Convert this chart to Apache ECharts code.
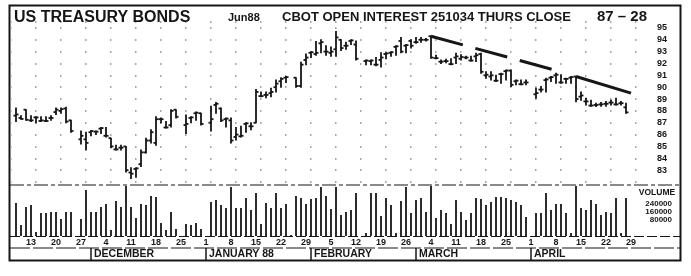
<!DOCTYPE html>
<html><head><meta charset="utf-8">
<script src="https://cdn.jsdelivr.net/npm/echarts@6/dist/echarts.min.js"></script>
<style>html,body{margin:0;padding:0;background:#fff}#c{width:691px;height:276px}</style>
</head><body><div id="c"></div>
<script>
// trading-day categories (weekdays, holidays kept as empty slots)
const categories = [
'11/9','11/10','11/11','11/12','11/13','11/16','11/17','11/18','11/19','11/20','11/23','11/24','11/25','11/26','11/27','11/30',
'12/1','12/2','12/3','12/4','12/7','12/8','12/9','12/10','12/11','12/14','12/15','12/16','12/17','12/18','12/21','12/22','12/23','12/24','12/25','12/28','12/29','12/30','12/31',
'1/1','1/4','1/5','1/6','1/7','1/8','1/11','1/12','1/13','1/14','1/15','1/18','1/19','1/20','1/21','1/22','1/25','1/26','1/27','1/28','1/29',
'2/1','2/2','2/3','2/4','2/5','2/8','2/9','2/10','2/11','2/12','2/15','2/16','2/17','2/18','2/19','2/22','2/23','2/24','2/25','2/26','2/29',
'3/1','3/2','3/3','3/4','3/7','3/8','3/9','3/10','3/11','3/14','3/15','3/16','3/17','3/18','3/21','3/22','3/23','3/24','3/25','3/28','3/29','3/30','3/31',
'4/1','4/4','4/5','4/6','4/7','4/8','4/11','4/12','4/13','4/14','4/15','4/18','4/19','4/20','4/21','4/22','4/25','4/26','4/27','4/28','4/29',
'5/2','5/3','5/4'];

const fridayLabels = ['11/13','11/20','11/27','12/4','12/11','12/18','12/25','1/1','1/8','1/15','1/22','1/29','2/5','2/12','2/19','2/26','3/4','3/11','3/18','3/25','4/1','4/8','4/15','4/22','4/29'];
const monthStarts = ['12/1','1/1','2/1','3/1','4/1'];
const monthNames = ['DECEMBER','JANUARY 88','FEBRUARY','MARCH','APRIL'];
const priceTicks = [83,84,85,86,87,88,89,90,91,92,93,94,95];
const volumeTicks = [80000,160000,240000];

const openP = [null,
87.6,87.4,88.1,87.2,87.45,87.15,87.15,87.4,87.9,88.0,88.2,87.2,null,85.6,85.6,
86.2,86.25,86.5,85.9,85.7,84.75,84.9,85.0,82.8,83.1,83.5,84.5,85.5,85.3,87.3,86.6,86.8,88.1,null,86.8,87.4,87.8,87.8,
null,87.0,88.5,88.2,87.3,87.2,85.8,85.85,86.9,86.7,87.0,89.25,89.35,89.5,90.0,90.5,90.8,null,90.8,90.1,92.3,
92.9,92.8,93.7,93.0,92.9,93.2,94.0,93.5,93.9,93.6,null,92.2,92.2,91.9,92.3,92.8,92.9,93.4,93.9,93.5,93.9,
93.8,94.0,94.0,94.3,92.45,92.15,92.2,91.95,92.5,92.4,92.5,92.25,92.6,92.8,91.0,90.9,90.55,91.1,91.35,91.4,90.5,90.25,90.4,
null,89.4,89.8,90.6,90.8,91.0,90.4,90.7,90.8,90.9,89.2,88.8,88.45,88.5,88.55,88.6,88.7,88.55,88.65,88.3];
const highP = [null,
88.25,87.6,88.1,87.6,87.5,87.5,87.5,87.6,88.25,88.25,88.3,87.2,null,86.3,86.2,
86.35,86.3,86.6,86.6,85.7,85.1,85.1,85.0,83.2,83.2,84.7,85.7,86.4,87.5,87.4,87.1,88.1,88.1,null,87.65,87.5,87.9,87.8,
null,88.4,88.7,88.25,87.4,87.4,86.6,86.7,87.0,87.0,89.8,89.6,89.6,89.9,90.6,90.8,90.9,null,90.8,92.1,92.8,
93.0,93.85,94.0,93.5,93.4,94.7,94.0,93.8,94.0,93.9,null,92.3,92.3,92.5,92.9,92.9,93.0,93.5,94.2,93.6,94.0,
94.2,94.2,94.1,94.3,92.7,92.3,92.36,92.4,92.87,92.73,92.6,92.6,92.87,92.87,91.3,91.3,91.0,91.18,91.46,91.46,90.6,90.6,90.6,
null,89.9,90.05,90.75,90.9,91.18,91.05,90.75,90.9,90.9,89.6,89.07,88.9,88.65,88.7,88.8,88.9,89.07,88.8,88.65];
const lowP = [null,
87.1,87.3,87.2,87.1,87.0,87.1,87.1,87.2,87.7,87.8,87.0,86.2,null,85.2,84.7,
85.9,86.0,86.1,85.8,84.9,84.7,84.7,82.85,82.3,82.4,83.3,84.45,85.3,85.1,87.0,86.55,86.65,87.4,null,86.1,87.0,87.2,86.8,
null,86.3,87.8,87.1,86.65,85.3,85.55,85.8,86.2,86.4,87.0,89.2,89.1,89.2,89.6,90.0,90.4,null,90.0,90.0,91.9,
92.5,92.7,92.9,92.7,92.6,92.6,93.1,93.2,93.6,92.3,null,91.9,91.9,91.8,91.7,92.4,92.6,92.7,92.9,92.9,93.3,
93.7,93.8,93.9,92.45,92.4,92.0,92.07,91.9,92.0,92.3,92.4,92.2,92.17,91.18,90.75,90.6,90.47,90.33,90.6,90.05,90.2,90.2,90.2,
null,89.07,89.6,89.6,90.47,90.33,90.33,90.33,90.33,88.78,88.9,88.5,88.4,88.36,88.4,88.4,88.5,88.5,88.5,87.8];
const closeP = [null,
87.7,87.32,87.25,87.2,87.45,87.2,87.15,87.4,88.1,88.15,87.1,86.3,null,85.9,85.3,
86.3,86.25,86.55,85.9,85.0,84.75,84.9,83.0,82.7,83.15,84.5,85.5,86.2,87.3,87.3,86.6,88.0,87.5,null,86.9,87.45,87.85,86.9,
null,87.3,88.6,87.2,87.35,85.5,86.0,85.9,86.95,86.7,89.6,89.25,89.35,89.6,90.3,90.7,90.85,null,90.1,91.9,92.5,
92.95,92.9,93.8,93.0,93.0,94.2,93.3,93.5,93.95,92.4,null,92.25,92.25,91.9,92.5,92.85,92.95,93.45,93.0,93.55,93.5,
93.8,94.0,94.0,92.5,92.45,92.15,92.2,91.95,92.6,92.55,92.5,92.25,92.7,91.3,91.05,91.0,90.55,91.1,91.4,90.2,90.55,90.25,90.4,
null,89.5,89.8,90.65,90.85,91.05,90.4,90.7,90.85,89.0,89.3,88.8,88.45,88.5,88.55,88.6,88.7,88.55,88.65,87.875];

const volume = [null,
264000,88000,232000,248000,32000,184000,184000,192000,192000,136000,192000,192000,null,136000,368000,
192000,192000,232000,256000,48000,280000,232000,408000,232000,144000,256000,248000,320000,312000,104000,48000,192000,56000,null,96000,88000,104000,56000,
null,272000,288000,248000,224000,392000,224000,224000,304000,208000,344000,96000,264000,224000,344000,224000,256000,8000,320000,304000,256000,
296000,304000,392000,320000,216000,392000,168000,192000,208000,344000,null,24000,344000,344000,160000,304000,248000,24000,280000,392000,
184000,288000,304000,192000,408000,144000,208000,184000,96000,288000,192000,128000,184000,304000,296000,248000,272000,312000,312000,304000,288000,272000,248000,152000,
null,184000,184000,344000,208000,256000,256000,184000,24000,408000,224000,208000,288000,256000,168000,192000,184000,304000,24000,304000];

const trendA = [['3/4', 94.3], ['4/11', 91.3]];
const trendB = [['4/14', 90.9], ['4/29', 89.5]];

const FONT = '"Liberation Sans",Arial,sans-serif';
const INK = '#161616';

const ohlc = [];
for (let i = 0; i < categories.length; i++) {
  if (highP[i] != null) ohlc.push([i, openP[i], highP[i], lowP[i], closeP[i]]);
}

const chart = echarts.init(document.getElementById('c'), null, {renderer: 'canvas'});
const fridaySet = new Set(fridayLabels);
const isMonthStart = (i, v) => monthStarts.indexOf(v) >= 0;

chart.setOption({
  animation: false,
  backgroundColor: '#fff',
  title: [
    {text: 'US TREASURY BONDS', left: 14, top: 10, padding: 0, textStyle: {fontSize: 16, fontWeight: 'bold', color: INK, fontFamily: FONT}},
    {text: 'Jun88', left: 228, top: 12, padding: 0, textStyle: {fontSize: 11, fontWeight: 'bold', color: INK, fontFamily: FONT}},
    {text: 'CBOT OPEN INTEREST 251034 THURS CLOSE', left: 282, top: 11, padding: 0, textStyle: {fontSize: 13, fontWeight: 'bold', color: INK, fontFamily: FONT}},
    {text: '87 \u2013 28', left: 597, top: 9, padding: 0, textStyle: {fontSize: 15, fontWeight: 'bold', color: INK, fontFamily: FONT}}
  ],
  grid: [
    {left: 8.5, right: 42.5, top: 22, height: 160},
    {left: 8.5, right: 42.5, top: 186, height: 50},
    {left: 8.5, right: 42.5, top: 248, height: 12}
  ],
  xAxis: [
    {gridIndex: 0, type: 'category', data: categories, axisLine: {show: false}, axisTick: {show: false}, axisLabel: {show: false}, splitLine: {show: false}},
    {gridIndex: 1, type: 'category', data: categories, axisLine: {show: false}, axisTick: {show: false},
     axisLabel: {interval: (i, v) => fridaySet.has(v), formatter: v => v.split('/')[1], fontSize: 9, fontWeight: 'bold', color: INK, fontFamily: FONT, margin: 2}},
    {gridIndex: 2, type: 'category', data: categories, position: 'top',
     axisLine: {show: false}, axisTick: {show: false},
     axisLabel: {inside: true, interval: isMonthStart, formatter: v => monthNames[monthStarts.indexOf(v)] || '', align: 'left', verticalAlign: 'middle', padding: [0, 0, 0, 3], fontSize: 10.5, fontWeight: 'bold', color: INK, fontFamily: FONT, margin: 6}}
  ],
  yAxis: [
    {gridIndex: 0, type: 'value', position: 'right', min: 82, max: 95.5, interval: 1,
     axisLine: {show: false}, axisTick: {show: false},
     splitLine: {show: true, lineStyle: {color: '#8a8a8a', width: 1.5, type: [1.5, 23.5], dashOffset: 23.5}},
     axisLabel: {formatter: v => priceTicks.includes(v) ? String(v) : '', fontSize: 9, fontWeight: 'bold', color: INK, fontFamily: FONT, margin: 8.5}},
    {gridIndex: 1, type: 'value', min: 0, max: 400000, show: false},
    {gridIndex: 1, type: 'value', position: 'right', offset: 8.5, min: -80000, max: 420000, interval: 80000,
     name: 'VOLUME', nameLocation: 'end', nameGap: -11,
     nameTextStyle: {fontSize: 8.5, fontWeight: 'bold', color: INK, fontFamily: FONT},
     axisLine: {show: false}, axisTick: {show: false}, splitLine: {show: false},
     axisLabel: {formatter: v => volumeTicks.includes(v) ? String(v) : '', align: 'right', margin: 15, fontSize: 8, fontWeight: 'bold', color: INK, fontFamily: FONT}},
    {gridIndex: 2, type: 'value', min: 0, max: 1, show: false}
  ],
  series: [
    {type: 'custom', xAxisIndex: 0, yAxisIndex: 0, data: ohlc,
     renderItem: (params, api) => {
       const x = api.coord([api.value(0), 0])[0];
       const yO = api.coord([api.value(0), api.value(1)])[1];
       const yH = api.coord([api.value(0), api.value(2)])[1];
       const yL = api.coord([api.value(0), api.value(3)])[1];
       const yC = api.coord([api.value(0), api.value(4)])[1];
       const st = {stroke: INK, lineWidth: 1.8};
       return {type: 'group', children: [
         {type: 'line', shape: {x1: x, y1: yH - 0.5, x2: x, y2: yL + 0.5}, style: st},
         {type: 'line', shape: {x1: x - 2.5, y1: yO, x2: x, y2: yO}, style: st},
         {type: 'line', shape: {x1: x, y1: yC, x2: x + 2.5, y2: yC}, style: st}
       ]};
     }},
    {type: 'line', xAxisIndex: 0, yAxisIndex: 0, data: trendA, symbol: 'none', lineStyle: {color: INK, width: 3, type: [33, 13]}},
    {type: 'line', xAxisIndex: 0, yAxisIndex: 0, data: trendB, symbol: 'none', lineStyle: {color: INK, width: 3}},
    {type: 'bar', xAxisIndex: 1, yAxisIndex: 1, data: volume, barWidth: 1.8, itemStyle: {color: INK}},
    {type: 'line', xAxisIndex: 2, yAxisIndex: 3, data: [], symbol: 'none',
     markLine: {silent: true, symbol: 'none', label: {show: false}, lineStyle: {color: INK, width: 1.5, type: 'solid'},
       data: monthStarts.map(m => ({xAxis: m}))}}
  ],
  graphic: [
    {type: 'rect', shape: {x: 9.5, y: 5.5, width: 671, height: 255}, style: {fill: 'none', stroke: INK, lineWidth: 2}, silent: true},
    {type: 'line', shape: {x1: 10, y1: 185, x2: 680, y2: 185}, style: {stroke: INK, lineWidth: 1.2, lineDash: [14, 3, 4, 3]}, silent: true},
    {type: 'line', shape: {x1: 10, y1: 236.5, x2: 680, y2: 236.5}, style: {stroke: INK, lineWidth: 1.2, lineDash: [10, 3]}, silent: true},
    {type: 'line', shape: {x1: 10, y1: 248, x2: 680, y2: 248}, style: {stroke: INK, lineWidth: 1.2, lineDash: [20, 3]}, silent: true}
  ]
});
</script></body></html>
